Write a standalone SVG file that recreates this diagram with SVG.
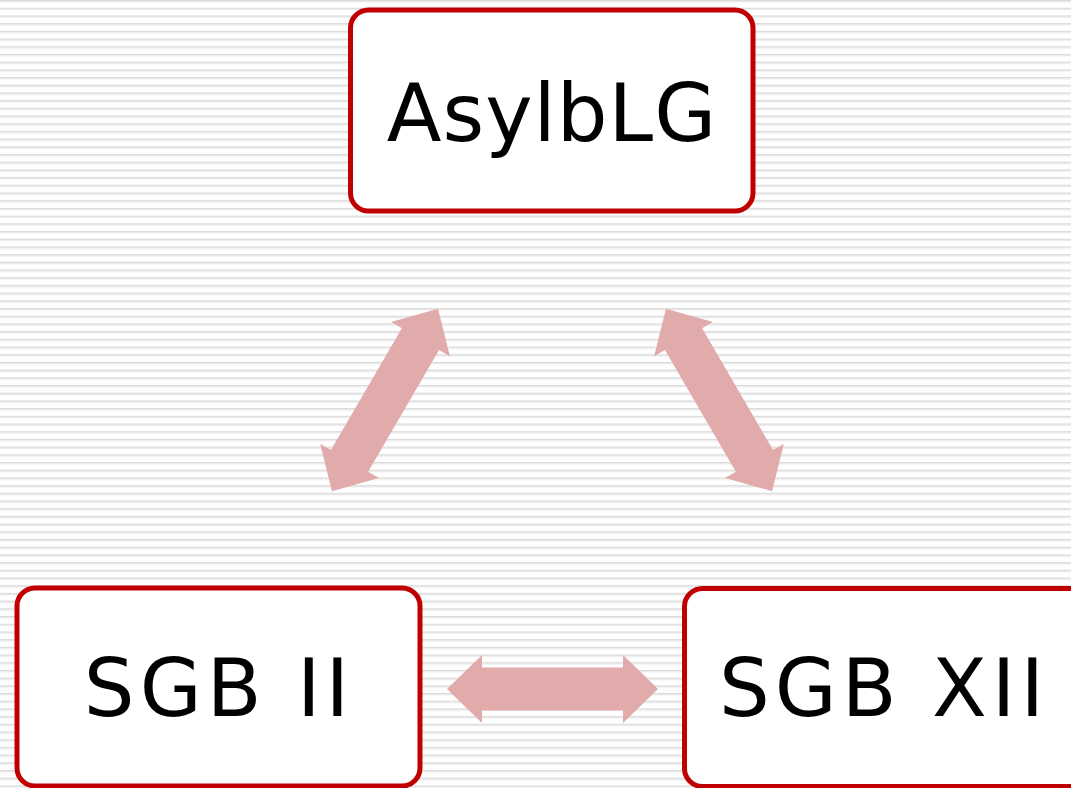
<svg xmlns="http://www.w3.org/2000/svg" width="1071" height="788" viewBox="0 0 1071 788">
  <defs>
    <pattern id="stripes" patternUnits="userSpaceOnUse" width="20" height="7.7">
      <rect width="20" height="7.7" fill="#ffffff"/>
      <rect y="0" width="20" height="1.5" fill="#dadada"/>
      <rect y="1.5" width="20" height="0.9" fill="#ececec"/>
    </pattern>
    <!-- double-headed block arrow, 211 long, centred on the origin -->
    <path id="dbl" d="M -105.5 0 L -70.5 -34 L -70.5 -21.5 L 70.5 -21.5 L 70.5 -34 L 105.5 0 L 70.5 34 L 70.5 21.5 L -70.5 21.5 L -70.5 34 Z"/>
  </defs>
  <style>
    .box { fill: #ffffff; stroke: #c00000; stroke-width: 5; }
    .label { font-family: "DejaVu Sans", "Liberation Sans", sans-serif; font-size: 80px; fill: #000000; text-anchor: middle; }
    .wide { letter-spacing: 5px; }
    .arrow { fill: #e1aaab; }
  </style>

  <rect width="1071" height="788" fill="url(#stripes)"/>

  <g id="connectors" class="arrow">
    <use href="#dbl" transform="translate(385 400) rotate(-59.8)"/>
    <use href="#dbl" transform="translate(719 400) rotate(59.8)"/>
    <use href="#dbl" transform="translate(552.5 689)"/>
  </g>

  <g id="node-asylblg">
    <rect class="box" x="350.5" y="10" width="402.5" height="201" rx="18"/>
    <text class="label" x="552" y="141" letter-spacing="1">AsylbLG</text>
  </g>

  <g id="node-sgb2">
    <rect class="box" x="17" y="588" width="403" height="198" rx="18"/>
    <text class="label wide" x="219" y="716">SGB II</text>
  </g>

  <g id="node-sgb12">
    <rect class="box" x="684.5" y="588.5" width="403" height="198" rx="18"/>
    <text class="label wide" x="884" y="716">SGB XII</text>
  </g>
</svg>
